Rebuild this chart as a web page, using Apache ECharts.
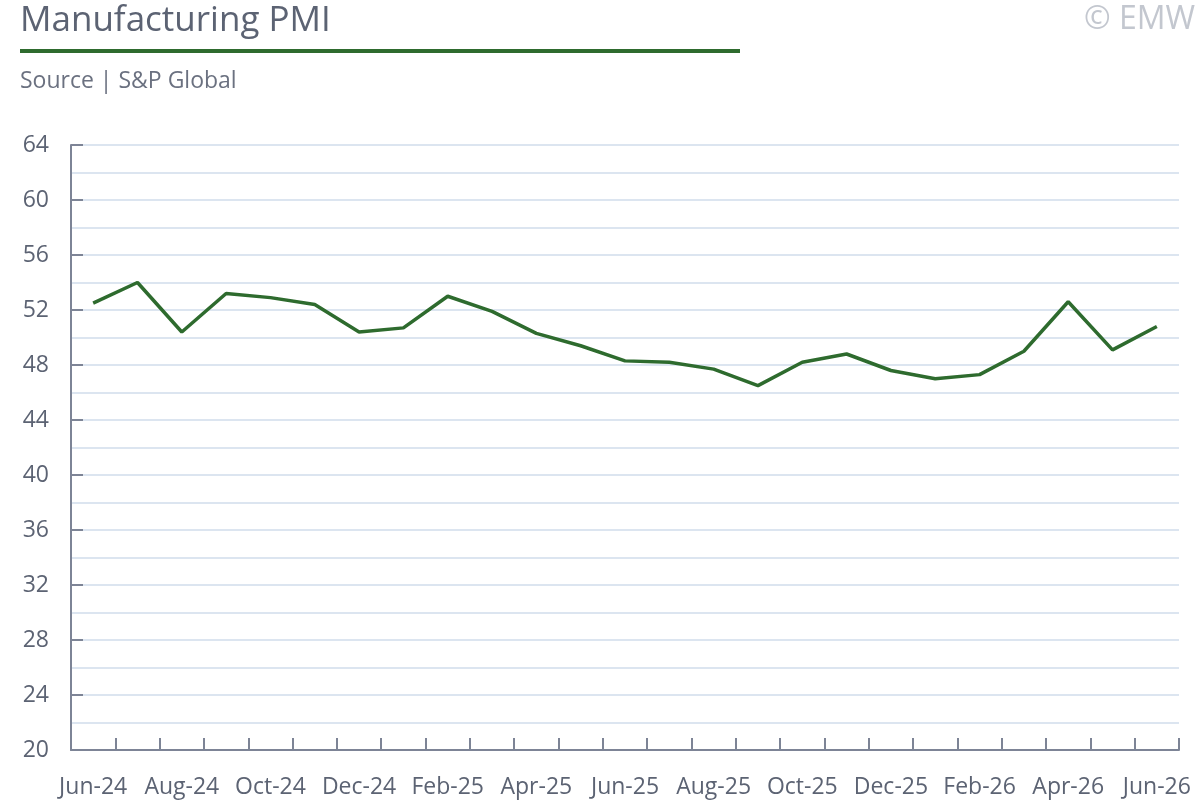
<!DOCTYPE html>
<html>
<head>
<meta charset="utf-8">
<script src="https://cdn.jsdelivr.net/npm/echarts@6/dist/echarts.min.js"></script>
<style>
html,body{margin:0;padding:0;background:#fff;}
#chart{width:1200px;height:800px;}
</style>
</head>
<body>
<div id="chart"></div>
<script>
const categories = ["Jun-24","Jul-24","Aug-24","Sep-24","Oct-24","Nov-24","Dec-24","Jan-25","Feb-25","Mar-25","Apr-25","May-25","Jun-25","Jul-25","Aug-25","Sep-25","Oct-25","Nov-25","Dec-25","Jan-26","Feb-26","Mar-26","Apr-26","May-26","Jun-26"];
const pmiValues = [52.5,54.0,50.4,53.2,52.9,52.4,50.4,50.7,53.0,51.9,50.3,49.4,48.3,48.2,47.7,46.5,48.2,48.8,47.6,47.0,47.3,49.0,52.6,49.1,50.8];
const yTicks = {min:20, max:64, interval:4};
const titleText = "Manufacturing PMI";
const sourceText = "Source | S&P Global";
const copyrightText = "© EMW";

const FONT = "Open Sans";
const chart = echarts.init(document.getElementById('chart'), null, {renderer:'canvas'});
chart.setOption({
  animation:false,
  backgroundColor:'#ffffff',
  title:[
    {text:titleText, left:15, top:-1, textStyle:{fontFamily:FONT, fontSize:35, fontWeight:'normal', color:'#5c6373'}},
    {text:sourceText, left:15, top:65, textStyle:{fontFamily:FONT, fontSize:23, fontWeight:'normal', color:'#6b7180'}},
    {text:copyrightText, right:0, top:-1, textStyle:{fontFamily:FONT, fontSize:32, fontWeight:'normal', color:'#c3c7cf'}}
  ],
  graphic:[
    {type:'rect', left:20, top:49, shape:{width:720, height:4}, style:{fill:'#2e6b2e'}}
  ],
  grid:{left:71, right:21, top:145, bottom:50, containLabel:false},
  xAxis:{
    type:'category',
    data:categories,
    boundaryGap:true,
    axisLine:{lineStyle:{color:'#7d8496', width:2}},
    axisTick:{show:true, inside:true, length:12, interval:0, lineStyle:{color:'#7d8496', width:2}},
    axisLabel:{interval:1, margin:26, fontFamily:FONT, fontSize:23, color:'#5c6373'},
    splitLine:{show:false}
  },
  yAxis:{
    type:'value',
    min:yTicks.min, max:yTicks.max, interval:yTicks.interval,
    axisLine:{show:true, lineStyle:{color:'#7d8496', width:2}},
    axisTick:{show:true, inside:true, length:12, lineStyle:{color:'#7d8496', width:2}},
    axisLabel:{margin:22, fontFamily:FONT, fontSize:23, color:'#5c6373'},
    splitLine:{show:true, lineStyle:{color:'#dce5f0', width:2}},
    minorTick:{show:false, splitNumber:2},
    minorSplitLine:{show:true, lineStyle:{color:'#dce5f0', width:2}}
  },
  series:[{
    type:'line',
    data:pmiValues,
    symbol:'none',
    lineStyle:{color:'#2e6b2e', width:3.5},
    itemStyle:{color:'#2e6b2e'}
  }]
});
</script>
</body>
</html>
